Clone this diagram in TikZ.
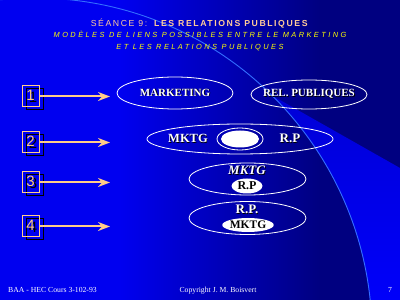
\documentclass[tikz,border=0pt]{standalone}
\usepackage{fontspec}
\setmainfont{Liberation Serif}
\newfontfamily\sansf{Liberation Sans}
\newfontfamily\sansls[LetterSpace=33]{Liberation Sans}
\newfontfamily\sanstl[LetterSpace=18]{Liberation Sans}
\usetikzlibrary{shapes.geometric,arrows.meta}
\definecolor{bgbright}{RGB}{0,0,240}
\definecolor{bgdark}{RGB}{0,0,128}
\definecolor{wedge}{RGB}{0,0,250}
\definecolor{wedgetop}{RGB}{0,0,215}
\definecolor{arcblue}{RGB}{51,110,255}
\definecolor{peach}{RGB}{255,204,136}
\definecolor{titlepeach}{RGB}{255,204,153}
\definecolor{subyellow}{RGB}{255,255,0}
\newcommand{\shd}[2][0.8pt]{\makebox[0pt][l]{\kern#1\raisebox{-#1}{\color{black}#2}}#2}
\begin{document}
\begin{tikzpicture}[x=1pt,y=1pt,
  numbox/.style={draw=peach, line width=1pt, minimum width=17pt, minimum height=21pt, inner sep=0pt},
  shadowbox/.style={draw=black, line width=1pt, minimum width=17pt, minimum height=21pt, inner sep=0pt},
  numtxt/.style={font=\sansf\fontsize{15}{15}\selectfont, text=peach, inner sep=0pt},
  arr/.style={draw=peach, line width=2pt, -{Stealth[length=12pt,width=9pt,inset=4pt]}},
  oval/.style={ellipse, draw=white, line width=0.8pt, inner sep=0pt},
  ovtxt/.style={font=\bfseries\fontsize{11}{11}\selectfont, text=white, inner sep=0pt},
  bigtxt/.style={font=\bfseries\fontsize{13}{13}\selectfont, text=white, inner sep=0pt},
  pill/.style={ellipse, fill=white, inner sep=0pt, text=black},
  foot/.style={font=\fontsize{7.7}{8}\selectfont, text=white, inner sep=0pt}
]
\useasboundingbox (0,0) rectangle (400,300);
% background
\fill[bgbright] (0,0) rectangle (121,300);
\shade[left color=bgbright, right color=bgdark] (120,0) rectangle (321,300);
\fill[bgdark] (320,0) rectangle (400,300);
% bright wedge outside the arc, below the diagonal
\shade[top color=wedgetop, bottom color=wedge]
  (400,0) -- (370,0) arc[start angle=5.96, end angle=45.35, radius=337] -- (400,132) -- cycle;
\begin{scope}
  \clip (0,0) rectangle (400,300);
  \draw[arcblue, line width=0.9pt] (35,-35) circle (337);
\end{scope}
% titles
\node[anchor=base, inner sep=0pt, text=titlepeach, font=\sanstl\fontsize{8.7}{9}\selectfont] (title) at (200,273)
  {SÉANCE 9: \textbf{LES RELATIONS PUBLIQUES}};
\node[anchor=base, inner sep=0pt, text=subyellow, font=\sansls\itshape\fontsize{7.4}{8}\selectfont] (sub1) at (200,262)
  {MODÈLES DE LIENS POSSIBLES ENTRE LE MARKETING};
\node[anchor=base, inner sep=0pt, text=subyellow, font=\sansls\itshape\fontsize{7.4}{8}\selectfont] (sub2) at (200,250)
  {ET LES RELATIONS PUBLIQUES};
% number boxes and arrows
\foreach \i/\y in {1/203.5, 2/157.5, 3/117.5, 4/73.5}{
  \node[shadowbox] (s\i) at (34.5,\y-3) {};
  \node[numbox] (b\i) at (30.5,\y) {};
  \node[numtxt] (n\i) at (30.5,\y) {\shd[2.5pt]{\i}};
  \coordinate (t\i) at (110,\y);
  \draw[arr] (b\i.east) -- (t\i);
}
% row 1
\node[oval, minimum width=116pt, minimum height=32pt] (mk) at (175,207) {};
\node[ovtxt] (mkt) at (175,207) {\shd{MARKETING}};
\node[oval, minimum width=116pt, minimum height=29pt] (rp) at (309,205.5) {};
\node[ovtxt] (rpt) at (309,205.5) {\shd{REL. PUBLIQUES}};
% row 2
\node[oval, minimum width=186pt, minimum height=30pt] (big) at (240,161) {};
\node[oval, minimum width=46pt, minimum height=22pt] (ring) at (240,161) {};
\node[pill, minimum width=38pt, minimum height=17pt] (core) at (240,161) {};
\node[bigtxt, font=\bfseries\fontsize{12.5}{13}\selectfont] (mk2) at (188,161) {\shd[0.6pt]{MKTG}};
\node[bigtxt] (rp2) at (290,161) {\shd[0.6pt]{R.P}};
% row 3
\node[oval, minimum width=117pt, minimum height=32pt] (e3) at (247.5,121) {};
\node[bigtxt] (mk3) at (247,129) {\shd{\itshape MKTG}};
\node[pill, minimum width=31pt, minimum height=15pt, font=\bfseries\fontsize{12}{12}\selectfont] (rp3) at (247,114) {R.P};
% row 4
\node[oval, minimum width=117pt, minimum height=33pt] (e4) at (247.5,82) {};
\node[bigtxt] (rp4) at (247,90) {\shd[0.6pt]{R.P.}};
\node[pill, minimum width=51pt, minimum height=14pt, font=\bfseries\fontsize{11.5}{12}\selectfont] (mk4) at (248,75) {MKTG};
% footer
\node[foot, anchor=base west] (f1) at (8,7) {BAA - HEC Cours 3-102-93};
\node[foot, anchor=base] (f2) at (218,7) {Copyright J. M. Boisvert};
\node[foot, anchor=base] (f3) at (390,7) {7};
\end{tikzpicture}
\end{document}
